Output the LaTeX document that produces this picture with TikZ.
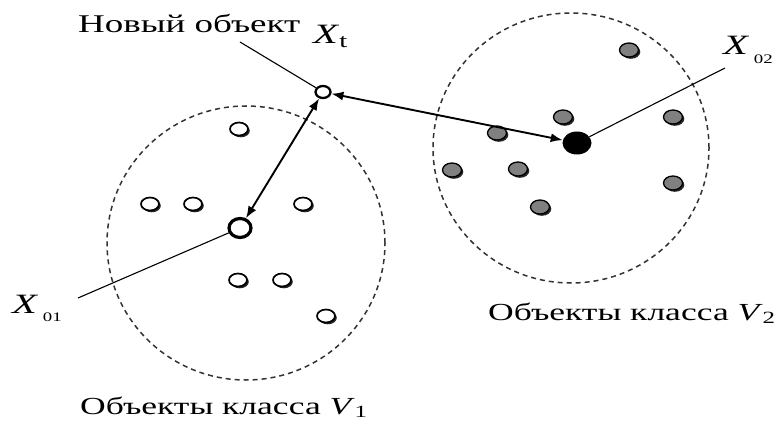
\documentclass[tikz,border=0pt]{standalone}
\usepackage{fontspec}
\setmainfont{Liberation Serif}[FakeStretch=1.45]
\usetikzlibrary{arrows.meta,positioning,shapes.geometric,shadows}
\definecolor{rim}{RGB}{50,50,50}
\definecolor{pt}{RGB}{128,128,128}
\newcommand{\lowidx}[1]{\raisebox{-0.3em}{\fontsize{13}{14}\selectfont #1}}

\begin{document}
\begin{tikzpicture}[x=1pt,y=-1pt,
  wdot/.style={ellipse,draw,line width=1.7pt,fill=white,minimum width=18pt,minimum height=13pt,inner sep=0pt,
    drop shadow={shadow xshift=1.8pt,shadow yshift=-1.8pt,fill=black!85,opacity=1}},
  gdot/.style={ellipse,draw,line width=1.3pt,fill=pt,minimum width=19pt,minimum height=14pt,inner sep=0pt,
    drop shadow={shadow xshift=1.8pt,shadow yshift=-1.8pt,fill=black!85,opacity=1}},
  ring/.style={draw=rim,line width=1.5pt,dash pattern=on 5pt off 4pt},
  dbl/.style={{Latex[length=12pt,width=9pt]}-{Latex[length=12pt,width=9pt]},line width=1.9pt},
  lead/.style={line width=1.1pt},
  lbl/.style={font=\fontsize{24.5}{28}\selectfont,inner sep=0pt},
  xlbl/.style={font=\fontsize{28}{32}\selectfont,inner sep=0pt}]
  \useasboundingbox (0,0) rectangle (784,425);

  % classes
  \draw[ring] (246,243) ellipse [x radius=139pt,y radius=137pt];
  \draw[ring] (571,148) ellipse [x radius=138pt,y radius=135pt];

  % class V1
  \node[wdot] (l1) at (239,129) {};
  \node[wdot] (l2) at (150,204) {};
  \node[wdot] (l3) at (193,204) {};
  \node[wdot] (l4) at (303,204) {};
  \node[wdot] (l5) at (238,280) {};
  \node[wdot] (l6) at (282,280) {};
  \node[wdot] (l7) at (326,316) {};
  \node[ellipse,draw,line width=3.2pt,fill=white,minimum width=22pt,minimum height=19pt,inner sep=0pt] (c1) at (240,228) {};

  % class V2
  \node[gdot] (r1) at (629,50) {};
  \node[gdot] (r2) at (563,117) {};
  \node[gdot] (r3) at (673,117) {};
  \node[gdot] (r4) at (497,133) {};
  \node[gdot] (r5) at (452,170) {};
  \node[gdot] (r6) at (518,169) {};
  \node[gdot] (r7) at (673,183) {};
  \node[gdot] (r8) at (540,207) {};
  \node[ellipse,fill=black,minimum width=29pt,minimum height=23pt,inner sep=0pt] (c2) at (577,143) {};

  % new object
  \node[ellipse,draw,line width=2.3pt,fill=white,minimum width=15pt,minimum height=12pt,inner sep=0pt] (nx) at (323,92) {};

  % distances
  \draw[dbl] (nx) -- (c1);
  \draw[dbl] (nx) -- (c2);

  % labels
  \node[lbl,anchor=base west,font=\fontsize{25.5}{30}\selectfont] (lnew) at (78,33) {Новый объект};
  \node[xlbl,anchor=base west] (lxt) at (313,44) {\textit{X}\textsubscript{t}};
  \node[xlbl,anchor=base west] (l01) at (12,313) {\textit{X}\,\lowidx{01}};
  \node[xlbl,anchor=base west] (l02) at (723,55) {\textit{X}\,\lowidx{02}};
  \node[lbl,anchor=base west] (lv1) at (80,414) {Объекты класса \textit{V}\textsubscript{1}};
  \node[lbl,anchor=base west] (lv2) at (488,320) {Объекты класса \textit{V}\textsubscript{2}};

  \coordinate (tnew) at (240,42);
  \coordinate (t01) at (78,298);
  \coordinate (t02) at (725,68);
  \draw[lead] (tnew) -- (nx);
  \draw[lead] (t01) -- (c1);
  \draw[lead] (t02) -- (c2);
\end{tikzpicture}
\end{document}
